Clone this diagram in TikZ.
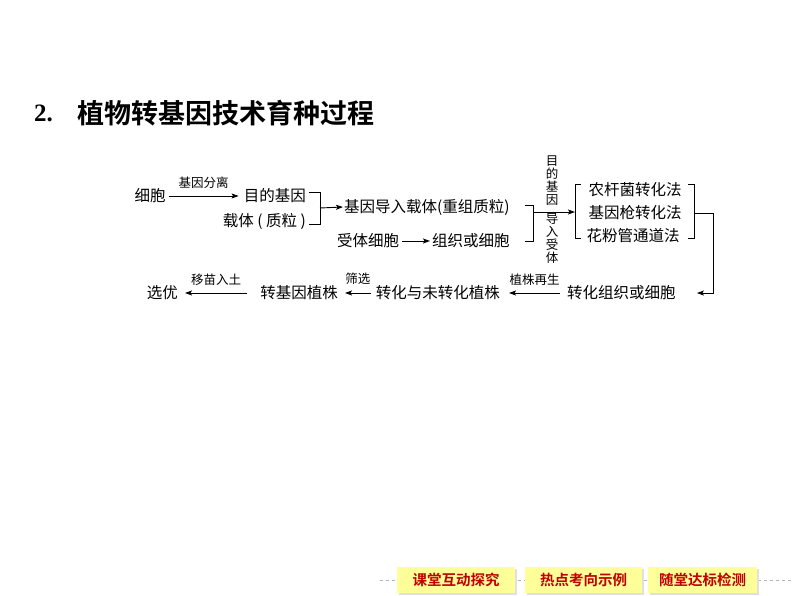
\documentclass[tikz,border=0pt]{standalone}
\usepackage{fontspec}
\usepackage{xcolor}
\usepackage{tikz}
\usetikzlibrary{arrows.meta}
\usetikzlibrary{calc}
\newfontfamily\cjk{Noto Sans CJK SC}[BoldFont={Noto Sans CJK SC Bold}]
\newfontfamily\numfont{Liberation Serif}
\definecolor{boxfill}{HTML}{FFFF99}
\definecolor{boxtext}{HTML}{C00000}
\definecolor{barline}{HTML}{B4B4B4}
\tikzset{
  txt/.style={inner sep=0pt, font=\cjk\fontsize{15.5}{18}\selectfont},
  lbl/.style={inner sep=0pt, font=\cjk\fontsize{12.5}{13}\selectfont},
  arr/.style={line width=0.9pt,-{Stealth[length=7pt,width=5pt,inset=1.5pt]}},
  brk/.style={line width=0.9pt},
  navbox/.style={fill=boxfill, inner sep=0pt, minimum height=26pt,
    font=\cjk\bfseries\fontsize{14.5}{16}\selectfont, text=boxtext}
}
\begin{document}
\begin{tikzpicture}[x=1pt,y=-1pt]
\useasboundingbox (0,0) rectangle (794,596);
%% title
\node[anchor=west, inner sep=0pt, font=\numfont\bfseries\fontsize{25}{28}\selectfont] (num) at (34,113) {2.};
\node[anchor=west, inner sep=0pt, font=\cjk\bfseries\fontsize{27}{30}\selectfont] (title) at (77,113) {植物转基因技术育种过程};

%% first row
\node[txt] (xibao) at (150,196) {细胞};
\node[txt, anchor=east] (mudi) at (306,196) {目的基因};
\node[txt, anchor=east] (zaiti) at (306,221) {载体 ( 质粒 )};
\draw[arr] ([xshift=3pt]xibao.east) -- ([xshift=-5pt]mudi.west) node[lbl, midway, above=7pt] (fenli) {基因分离};
\draw[brk] (309,192) -- (320,192) -- (320,224) -- (309,224);
\coordinate (br1) at (320,208);
\node[txt, anchor=west] (chongzu) at (344,207) {基因导入载体(重组质粒)};
\draw[arr] (br1) -- ([xshift=-1pt]chongzu.west);
\node[txt, anchor=west] (shouti) at (337,241) {受体细胞};
\node[txt, anchor=west] (zuzhi) at (432,241) {组织或细胞};
\draw[arr] ([xshift=3pt]shouti.east) -- ([xshift=-2pt]zuzhi.west);
\draw[brk] (525,205) -- (533,205) -- (533,241) -- (525,241);
\coordinate (br2) at (533,212);

%% methods
\node[lbl, align=center] (daoru1) at (552,181) {目\\的\\基\\因};
\node[lbl, align=center] (daoru2) at (552,238) {导\\入\\受\\体};
\node[txt] (nong) at (635,190) {农杆菌转化法};
\node[txt] (qiang) at (635,213) {基因枪转化法};
\node[txt] (huafen) at (633,236) {花粉管通道法};
\draw[brk] (581,184) -- (575,184) -- (575,238) -- (581,238);
\draw[brk] (688,184) -- (694,184) -- (694,238) -- (688,238);
\coordinate (fa) at (575,212);
\coordinate (fb) at (694,213);
\draw[arr] (br2) -- (fa);

%% second row
\node[txt, anchor=west] (zhuanhua) at (567,293) {转化组织或细胞};
\node[txt, anchor=east] (weizhuan) at (500,293) {转化与未转化植株};
\node[txt, anchor=east] (zhizhu) at (338,293) {转基因植株};
\node[txt, anchor=east] (xuanyou) at (178,293) {选优};
\draw[arr] (fb) -- (713,213) |- ([xshift=21pt]zhuanhua.east);
\draw[arr] ([xshift=-7pt]zhuanhua.west) -- ([xshift=9pt]weizhuan.east) node[lbl, midway, above=7pt] (zaisheng) {植株再生};
\draw[arr] ([xshift=-5pt]weizhuan.west) -- ([xshift=7pt]zhizhu.east) node[lbl, midway, above=8pt] (shaixuan) {筛选};
\draw[arr] ([xshift=-13pt]zhizhu.west) -- ([xshift=7pt]xuanyou.east) node[lbl, midway, above=7pt] (yimiao) {移苗入土};

%% navigation bar
\draw[barline, dashed, line width=0.6pt] (380,580) -- (794,580);
\foreach \cx/\w/\name/\btext in {456/118/tanjiu/课堂互动探究, 583.5/117/shili/热点考向示例, 702.5/109/jiance/随堂达标检测}
{
  \fill[black!12] (\cx-\w/2+2,569) rectangle (\cx+\w/2+2,595);
  \node[navbox, minimum width=\w pt] (\name) at (\cx,580) {\btext};
}
\end{tikzpicture}
\end{document}
